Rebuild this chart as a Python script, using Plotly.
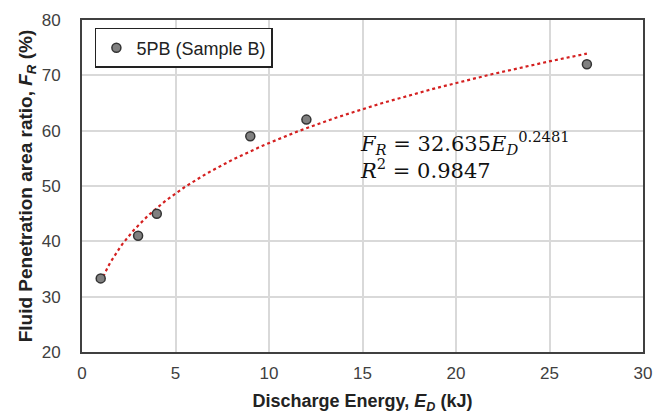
import numpy as np
import plotly.graph_objects as go

energy_kJ = [1, 3, 4, 9, 12, 27]
penetration_pct = [33.3, 41, 45, 59, 62, 72]
fit_a = 32.635
fit_b = 0.2481
fit_r2 = 0.9847
x_ticks = [0, 5, 10, 15, 20, 25, 30]
y_ticks = [20, 30, 40, 50, 60, 70, 80]

xf = np.linspace(min(energy_kJ), max(energy_kJ), 200)
yf = fit_a * xf ** fit_b

fig = go.Figure()
fig.add_trace(go.Scatter(x=xf, y=yf, mode="lines", showlegend=False,
                         line=dict(color="#d42020", width=2.2, dash="dot")))
fig.add_trace(go.Scatter(x=energy_kJ, y=penetration_pct, mode="markers",
                         name="5PB (Sample B)",
                         marker=dict(size=9, color="#808080",
                                     line=dict(color="#333333", width=1.5))))

font = "Liberation Sans, Arial, sans-serif"
fig.update_layout(
    width=655, height=414,
    margin=dict(l=82, r=12, t=20, b=62, autoexpand=False),
    plot_bgcolor="white", paper_bgcolor="white",
    font=dict(family=font, size=17, color="#404040"),
    legend=dict(x=0.023, y=0.976, xanchor="left", yanchor="top",
                bordercolor="#222222", borderwidth=1.5, bgcolor="white",
                font=dict(size=18, color="#222222"), itemwidth=30),
    xaxis=dict(range=[0, 30], tickvals=x_ticks, showgrid=True, automargin=False,
               gridcolor="#d9d9d9", gridwidth=1.5, zeroline=False,
               showline=True, linecolor="#404040", linewidth=2, mirror=True,
               ticks="", ticklabelstandoff=5,
               tickfont=dict(size=17, color="#404040"),
               title=dict(text="<b>Discharge Energy, <i>E<sub>D</sub></i> (kJ)</b>",
                          font=dict(size=18, color="#222222"), standoff=12)),
    yaxis=dict(range=[20, 80], tickvals=y_ticks, showgrid=True, automargin=False,
               gridcolor="#d9d9d9", gridwidth=1.5, zeroline=False,
               showline=True, linecolor="#404040", linewidth=2, mirror=True,
               ticks="", ticklabelstandoff=16,
               tickfont=dict(size=17, color="#404040"),
               title=dict(text="<b>Fluid Penetration area ratio, <i>F<sub>R</sub></i> (%)</b>",
                          font=dict(size=19, color="#222222"), standoff=4)),
)

fig.add_annotation(
    x=14.76, y=55.6, xref="x", yref="y", xanchor="left", yanchor="middle",
    showarrow=False, align="left",
    text=(f"<i>F<sub>R</sub></i> = {fit_a}<i>E<sub>D</sub></i><sup>{fit_b}</sup>"
          f"<br><i>R</i><sup>2</sup> = {fit_r2}"),
    font=dict(family="DejaVu Serif, Liberation Serif, serif", size=21, color="#111111"),
)

fig.write_html("out.html")
